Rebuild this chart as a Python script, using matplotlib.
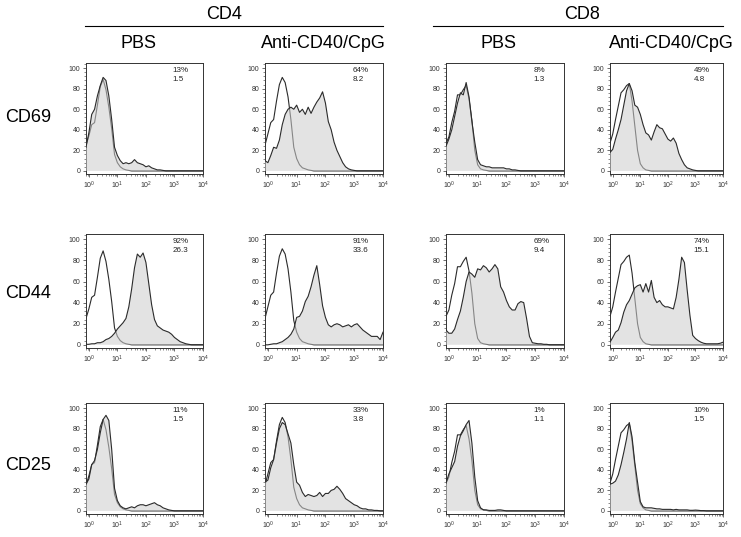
import matplotlib
matplotlib.use('Agg')
import matplotlib.pyplot as plt
from matplotlib.lines import Line2D
from matplotlib.ticker import LogLocator, LogFormatterMathtext, MultipleLocator, NullFormatter
import numpy as np

plt.rcParams['font.family'] = ['Liberation Sans', 'DejaVu Sans']

# Fluorescence channel (log10), shared by every histogram.
log_channel = [-0.1, 0.0, 0.1, 0.2, 0.3, 0.4, 0.5, 0.6, 0.7, 0.8,
               0.9, 1.0, 1.1, 1.2, 1.3, 1.4, 1.5, 1.6, 1.7, 1.8,
               1.9, 2.0, 2.1, 2.2, 2.3, 2.4, 2.5, 2.6, 2.7, 2.8,
               2.9, 3.0, 3.1, 3.2, 3.3, 3.4, 3.5, 3.6, 3.7, 3.8,
               3.9, 4.0]

# Control (open) histograms, one per column.
iso_cd4_pbs = [25, 34, 45, 47, 64, 82, 89, 79, 62, 41,
               16, 8, 4, 2, 1, 0.5, 0, 0, 0, 0,
               0, 0, 0, 0, 0, 0, 0, 0, 0, 0,
               0, 0, 0, 0, 0, 0, 0, 0, 0, 0,
               0, 0]
iso_cd4_anti = [25, 36, 47, 50, 68, 84, 91, 86, 72, 50,
                23, 12, 6, 3, 2, 1, 0.5, 0, 0, 0,
                0, 0, 0, 0, 0, 0, 0, 0, 0, 0,
                0, 0, 0, 0, 0, 0, 0, 0, 0, 0,
                0, 0]
iso_cd8_pbs = [27, 33, 47, 58, 74, 74, 79, 83, 70, 49,
               20, 6, 2, 1, 0.5, 0, 0, 0, 0, 0,
               0, 0, 0, 0, 0, 0, 0, 0, 0, 0,
               0, 0, 0, 0, 0, 0, 0, 0, 0, 0,
               0, 0]
iso_cd8_anti = [27, 36, 50, 63, 76, 79, 83, 85, 68, 44,
                20, 7, 3, 1, 0.5, 0, 0, 0, 0, 0,
                0, 0, 0, 0, 0, 0, 0, 0, 0, 0,
                0, 0, 0, 0, 0, 0, 0, 0, 0, 0,
                0, 0]

# Stained (filled) histograms.
cd69_cd4_pbs = [23, 37, 55, 60, 73, 83, 91, 88, 73, 50,
                23, 15, 10, 7, 8, 7, 8, 11, 8, 7,
                6, 4, 5, 3, 2, 1, 1, 0.5, 0, 0,
                0, 0, 0, 0, 0, 0, 0, 0, 0, 0,
                0, 0]
cd69_cd4_anti = [10, 8, 15, 23, 22, 30, 45, 55, 60, 62,
                 60, 64, 57, 60, 55, 62, 56, 62, 67, 71,
                 77, 66, 48, 40, 28, 20, 14, 8, 4, 2,
                 1, 0.5, 0, 0, 0, 0, 0, 0, 0, 0,
                 0, 0]
cd69_cd8_pbs = [24, 31, 40, 53, 66, 76, 74, 86, 72, 48,
                28, 11, 6, 5, 4, 4, 3, 3, 3, 3,
                3, 2, 2, 1, 1, 0.5, 0, 0, 0, 0,
                0, 0, 0, 0, 0, 0, 0, 0, 0, 0,
                0, 0]
cd69_cd8_anti = [18, 21, 31, 40, 50, 64, 78, 85, 78, 64,
                 62, 55, 45, 37, 35, 30, 38, 45, 42, 41,
                 36, 31, 29, 32, 27, 17, 11, 6, 3, 2,
                 1, 0.5, 0, 0, 0, 0, 0, 0, 0, 0,
                 0, 0]
cd44_cd4_pbs = [0.5, 0.5, 1, 1, 2, 2, 3, 5, 6, 8,
                11, 15, 18, 21, 25, 36, 53, 73, 86, 83,
                87, 78, 58, 38, 24, 18, 16, 14, 13, 12,
                10, 7, 5, 3, 2, 1, 0.5, 0, 0, 0,
                0, 0]
cd44_cd4_anti = [0, 0, 0.5, 1, 1, 2, 3, 5, 7, 10,
                 15, 26, 27, 32, 41, 46, 55, 66, 75, 57,
                 37, 26, 19, 17, 19, 20, 19, 17, 18, 19,
                 17, 19, 20, 17, 14, 12, 10, 8, 8, 8,
                 5, 12]
cd44_cd8_pbs = [14, 11, 11, 15, 24, 32, 45, 60, 69, 67,
                64, 72, 71, 75, 73, 69, 72, 76, 72, 55,
                50, 42, 36, 33, 33, 39, 41, 40, 25, 8,
                2, 1.5, 1, 1, 0.5, 0.5, 0, 0, 0, 0,
                0, 0]
cd44_cd8_anti = [2.5, 7, 12, 14, 21, 31, 38, 42, 48, 54,
                 56, 57, 50, 58, 50, 61, 45, 40, 42, 38,
                 36, 36, 35, 34, 45, 62, 83, 78, 52, 28,
                 9, 6, 4, 2.5, 1.5, 1, 1, 1, 1, 1,
                 1.5, 2.5]
cd25_cd4_pbs = [26, 31, 45, 49, 60, 76, 89, 93, 88, 60,
                22, 10, 5, 3, 2, 3, 4, 3, 5, 6,
                6, 5, 6, 7, 8, 6, 5, 3, 2, 1,
                0.5, 0, 0, 0, 0, 0, 0, 0, 0, 0,
                0, 0]
cd25_cd4_anti = [28, 30, 42, 50, 66, 80, 86, 84, 75, 66,
                 45, 28, 25, 18, 14, 16, 15, 14, 15, 18,
                 14, 17, 17, 20, 21, 24, 21, 17, 12, 10,
                 8, 6, 5, 3, 2, 2, 1, 1, 0.5, 0.5,
                 0, 0]
cd25_cd8_pbs = [27, 36, 42, 48, 63, 73, 78, 84, 88, 66,
                33, 10, 3, 1, 1, 0.5, 0.5, 0.5, 1, 1,
                0.5, 0, 0, 0, 0, 0, 0, 0, 0, 0,
                0, 0, 0, 0, 0, 0, 0, 0, 0, 0,
                0, 0]
cd25_cd8_anti = [26, 27, 29, 35, 45, 57, 70, 86, 72, 47,
                 28, 9, 4, 3, 3, 3, 2.5, 2, 2, 1.5,
                 1.5, 1.5, 1.5, 1, 1.5, 1, 1, 1, 1, 0.6,
                 0.6, 0.8, 0.6, 0.3, 0.3, 0, 0, 0, 0, 0,
                 0, 0]

markers = ['CD69', 'CD44', 'CD25']
groups = ['CD4', 'CD8']
treatments = ['PBS', 'Anti-CD40/CpG']
pct_labels = [['13%', '64%', '8%', '49%'],
              ['92%', '91%', '69%', '74%'],
              ['11%', '33%', '1%', '10%']]
mfi_labels = [['1.5', '8.2', '1.3', '4.8'],
              ['26.3', '33.6', '9.4', '15.1'],
              ['1.5', '3.8', '1.1', '1.5']]

controls = [iso_cd4_pbs, iso_cd4_anti, iso_cd8_pbs, iso_cd8_anti]
stained = [[cd69_cd4_pbs, cd69_cd4_anti, cd69_cd8_pbs, cd69_cd8_anti],
           [cd44_cd4_pbs, cd44_cd4_anti, cd44_cd8_pbs, cd44_cd8_anti],
           [cd25_cd4_pbs, cd25_cd4_anti, cd25_cd8_pbs, cd25_cd8_anti]]

W, H = 741, 537
fig = plt.figure(figsize=(W / 100, H / 100), dpi=100)

# Panel edges in pixels.
col_px = [(86, 203), (265, 383), (446, 564), (610, 723)]
row_px = [(63, 174), (234, 348), (403, 514)]

dark = '#2b2b2b'
x = 10 ** np.array(log_channel)

for r, (top, bottom) in enumerate(row_px):
    for c, (left, right) in enumerate(col_px):
        ax = fig.add_axes([left / W, 1 - bottom / H, (right - left) / W, (bottom - top) / H])

        # Control first, so the translucent fill greys it out where they overlap.
        ax.plot(x, controls[c], color=dark, lw=0.8, zorder=2)
        ax.fill_between(x, 0, stained[r][c], facecolor='#cecece', alpha=0.56, lw=0, zorder=3)
        ax.plot(x, stained[r][c], color=dark, lw=0.8, zorder=4)

        ax.set_xscale('log')
        ax.set_xlim(10 ** -0.1, 10 ** 4)
        ax.set_ylim(-3, 105)
        ax.xaxis.set_major_locator(LogLocator(base=10, numticks=10))
        ax.xaxis.set_major_formatter(LogFormatterMathtext())
        ax.xaxis.set_minor_locator(LogLocator(base=10, subs=np.arange(2, 10), numticks=10))
        ax.xaxis.set_minor_formatter(NullFormatter())
        ax.set_yticks([0, 20, 40, 60, 80, 100])
        ax.yaxis.set_minor_locator(MultipleLocator(4))

        ax.tick_params(which='major', direction='out', length=2.5, width=0.5,
                       labelsize=5, pad=1.5, colors='#333333')
        ax.tick_params(which='minor', direction='out', length=1.5, width=0.4, colors='#333333')
        for s in ax.spines.values():
            s.set_linewidth(0.7)
            s.set_color('#333333')

        ax.text(0.74, 0.965, pct_labels[r][c] + '\n' + mfi_labels[r][c],
                transform=ax.transAxes, ha='left', va='top',
                fontsize=5.8, linespacing=1.35, color='#222222')

# Column headers
for name, cx, (x0, x1) in zip(groups, [224, 582], [(85, 383), (433, 723)]):
    fig.text(cx / W, 1 - 14.5 / H, name, ha='center', va='center', fontsize=13)
    fig.add_artist(Line2D([x0 / W, x1 / W], [1 - 26 / H, 1 - 26 / H],
                          transform=fig.transFigure, color='black', lw=0.8))

for cx, label in zip([138, 323, 498, 671], treatments * 2):
    fig.text(cx / W, 1 - 43.5 / H, label, ha='center', va='center', fontsize=13)

# Row labels
for cy, label in zip([118, 294, 465], markers):
    fig.text(28 / W, 1 - cy / H, label, ha='center', va='center', fontsize=13)

fig.savefig('out.png', dpi=100)
